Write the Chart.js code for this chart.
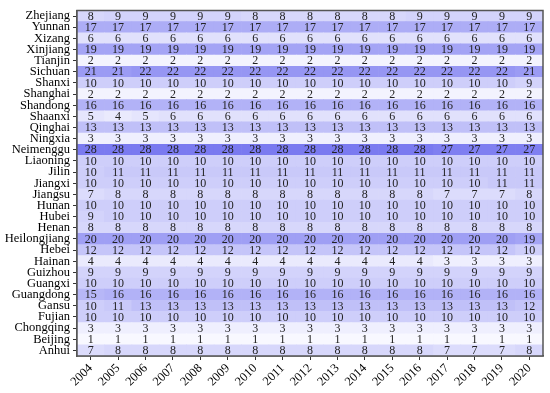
<!DOCTYPE html>
<html>
<head>
<meta charset="utf-8">
<script src="https://cdn.jsdelivr.net/npm/chart.js@4.4.1/dist/chart.umd.min.js"></script>
<style>
  html, body { margin: 0; padding: 0; background: #fff; }
  #wrap { width: 550px; height: 393px; }
</style>
</head>
<body>
<div id="wrap"><canvas id="heatChart"></canvas></div>
<script>
// years along the bottom
const years = ['2004', '2005', '2006', '2007', '2008', '2009', '2010', '2011', '2012',
               '2013', '2014', '2015', '2016', '2017', '2018', '2019', '2020'];

// provinces, top row first (as in the picture)
const provinces = ['Zhejiang', 'Yunnan', 'Xizang', 'Xinjiang', 'Tianjin', 'Sichuan', 'Shanxi',
  'Shanghai', 'Shandong', 'Shaanxi', 'Qinghai', 'Ningxia', 'Neimenggu', 'Liaoning', 'Jilin',
  'Jiangxi', 'Jiangsu', 'Hunan', 'Hubei', 'Henan', 'Heilongjiang', 'Hebei', 'Hainan', 'Guizhou',
  'Guangxi', 'Guangdong', 'Gansu', 'Fujian', 'Chongqing', 'Beijing', 'Anhui'];

// cell values, one row per province (same order as above)
const cellValues = [
  [8, 9, 9, 9, 9, 9, 8, 8, 8, 8, 8, 8, 9, 9, 9, 9, 9],
  [17, 17, 17, 17, 17, 17, 17, 17, 17, 17, 17, 17, 17, 17, 17, 17, 17],
  [6, 6, 6, 6, 6, 6, 6, 6, 6, 6, 6, 6, 6, 6, 6, 6, 6],
  [19, 19, 19, 19, 19, 19, 19, 19, 19, 19, 19, 19, 19, 19, 19, 19, 19],
  [2, 2, 2, 2, 2, 2, 2, 2, 2, 2, 2, 2, 2, 2, 2, 2, 2],
  [21, 21, 22, 22, 22, 22, 22, 22, 22, 22, 22, 22, 22, 22, 22, 22, 21],
  [10, 10, 10, 10, 10, 10, 10, 10, 10, 10, 10, 10, 10, 10, 10, 10, 9],
  [2, 2, 2, 2, 2, 2, 2, 2, 2, 2, 2, 2, 2, 2, 2, 2, 2],
  [16, 16, 16, 16, 16, 16, 16, 16, 16, 16, 16, 16, 16, 16, 16, 16, 16],
  [5, 4, 5, 6, 6, 6, 6, 6, 6, 6, 6, 6, 6, 6, 6, 6, 6],
  [13, 13, 13, 13, 13, 13, 13, 13, 13, 13, 13, 13, 13, 13, 13, 13, 13],
  [3, 3, 3, 3, 3, 3, 3, 3, 3, 3, 3, 3, 3, 3, 3, 3, 3],
  [28, 28, 28, 28, 28, 28, 28, 28, 28, 28, 28, 28, 28, 27, 27, 27, 27],
  [10, 10, 10, 10, 10, 10, 10, 10, 10, 10, 10, 10, 10, 10, 10, 10, 10],
  [10, 11, 11, 11, 11, 11, 11, 11, 11, 11, 11, 11, 11, 11, 11, 11, 11],
  [10, 10, 10, 10, 10, 10, 10, 10, 10, 10, 10, 10, 10, 10, 10, 11, 11],
  [7, 8, 8, 8, 8, 8, 8, 8, 8, 8, 8, 8, 8, 7, 7, 7, 8],
  [10, 10, 10, 10, 10, 10, 10, 10, 10, 10, 10, 10, 10, 10, 10, 10, 10],
  [9, 10, 10, 10, 10, 10, 10, 10, 10, 10, 10, 10, 10, 10, 10, 10, 10],
  [8, 8, 8, 8, 8, 8, 8, 8, 8, 8, 8, 8, 8, 8, 8, 8, 8],
  [20, 20, 20, 20, 20, 20, 20, 20, 20, 20, 20, 20, 20, 20, 20, 20, 19],
  [12, 12, 12, 12, 12, 12, 12, 12, 12, 12, 12, 12, 12, 12, 12, 12, 10],
  [4, 4, 4, 4, 4, 4, 4, 4, 4, 4, 4, 4, 4, 3, 3, 3, 3],
  [9, 9, 9, 9, 9, 9, 9, 9, 9, 9, 9, 9, 9, 9, 9, 9, 9],
  [10, 10, 10, 10, 10, 10, 10, 10, 10, 10, 10, 10, 10, 10, 10, 10, 10],
  [15, 16, 16, 16, 16, 16, 16, 16, 16, 16, 16, 16, 16, 16, 16, 16, 16],
  [10, 11, 13, 13, 13, 13, 13, 13, 13, 13, 13, 13, 13, 13, 13, 13, 12],
  [10, 10, 10, 10, 10, 10, 10, 10, 10, 10, 10, 10, 10, 10, 10, 10, 10],
  [3, 3, 3, 3, 3, 3, 3, 3, 3, 3, 3, 3, 3, 3, 3, 3, 3],
  [1, 1, 1, 1, 1, 1, 1, 1, 1, 1, 1, 1, 1, 1, 1, 1, 1],
  [7, 8, 8, 8, 8, 8, 8, 8, 8, 8, 8, 8, 8, 7, 7, 7, 8]
];

const FONT = '"Liberation Serif", "Times New Roman", serif';

// white-ish -> blue-violet
function cellColor(v) {
  const t = Math.max(0, Math.min(1, (v - 1) / 27));
  const r = Math.round(248 - t * 126);
  const b = Math.round(255 - t * 15);
  return `rgb(${r},${r},${b})`;
}

// bottom row of the stack is the last province, so walk the list backwards
const rowsBottomUp = provinces.slice().reverse();
const datasets = rowsBottomUp.map((name) => {
  const vals = cellValues[provinces.indexOf(name)];
  return {
    label: name,
    data: years.map(() => 1),       // every cell is one unit tall
    cellValues: vals,
    backgroundColor: vals.map(cellColor),
    borderWidth: 0,
    barPercentage: 1,
    categoryPercentage: 1
  };
});

// numbers inside the cells + frame round the plot
const cellLabels = {
  id: 'cellLabels',
  afterDatasetsDraw(chart) {
    const ctx = chart.ctx;
    ctx.save();
    ctx.font = '12px ' + FONT;
    ctx.fillStyle = '#222';
    ctx.textAlign = 'center';
    ctx.textBaseline = 'middle';
    chart.data.datasets.forEach((ds, di) => {
      chart.getDatasetMeta(di).data.forEach((bar, j) => {
        const c = bar.getCenterPoint();
        ctx.fillText(String(ds.cellValues[j]), c.x, c.y + 0.5);
      });
    });
    const a = chart.chartArea;
    ctx.strokeStyle = '#555';
    ctx.lineWidth = 1.5;
    ctx.strokeRect(a.left, a.top, a.right - a.left, a.bottom - a.top);
    ctx.restore();
  }
};

const ctx = document.getElementById('heatChart').getContext('2d');
const heatChart = new Chart(ctx, {
  type: 'bar',
  data: { labels: years, datasets: datasets },
  options: {
    responsive: true,
    maintainAspectRatio: false,
    animation: false,
    layout: { padding: { top: 8, right: 7, left: 0, bottom: 0 } },
    plugins: {
      legend: { display: false },
      tooltip: { enabled: false }
    },
    scales: {
      x: {
        type: 'category',
        stacked: true,
        grid: { display: true, offset: false, drawOnChartArea: false, tickLength: 4, color: '#333' },
        border: { display: true, color: '#555', width: 1.5 },
        ticks: {
          color: '#000',
          font: { family: FONT, size: 12.5 },
          maxRotation: 45,
          minRotation: 45,
          autoSkip: false,
          padding: 1
        },
        afterFit(scale) { scale.height = 37; }
      },
      y: {
        type: 'linear',
        stacked: true,
        min: 0,
        max: provinces.length,
        grid: { display: true, drawOnChartArea: false, tickLength: 4, color: '#333' },
        border: { display: true, color: '#555', width: 1.5 },
        afterBuildTicks(scale) {
          scale.ticks = rowsBottomUp.map((p, i) => ({ value: i + 0.5 }));
        },
        ticks: {
          color: '#000',
          font: { family: FONT, size: 12.5 },
          autoSkip: false,
          padding: 3,
          callback: (v, i) => rowsBottomUp[i]
        },
        afterFit(scale) { scale.width = 77; }
      }
    }
  },
  plugins: [cellLabels]
});
</script>
</body>
</html>
